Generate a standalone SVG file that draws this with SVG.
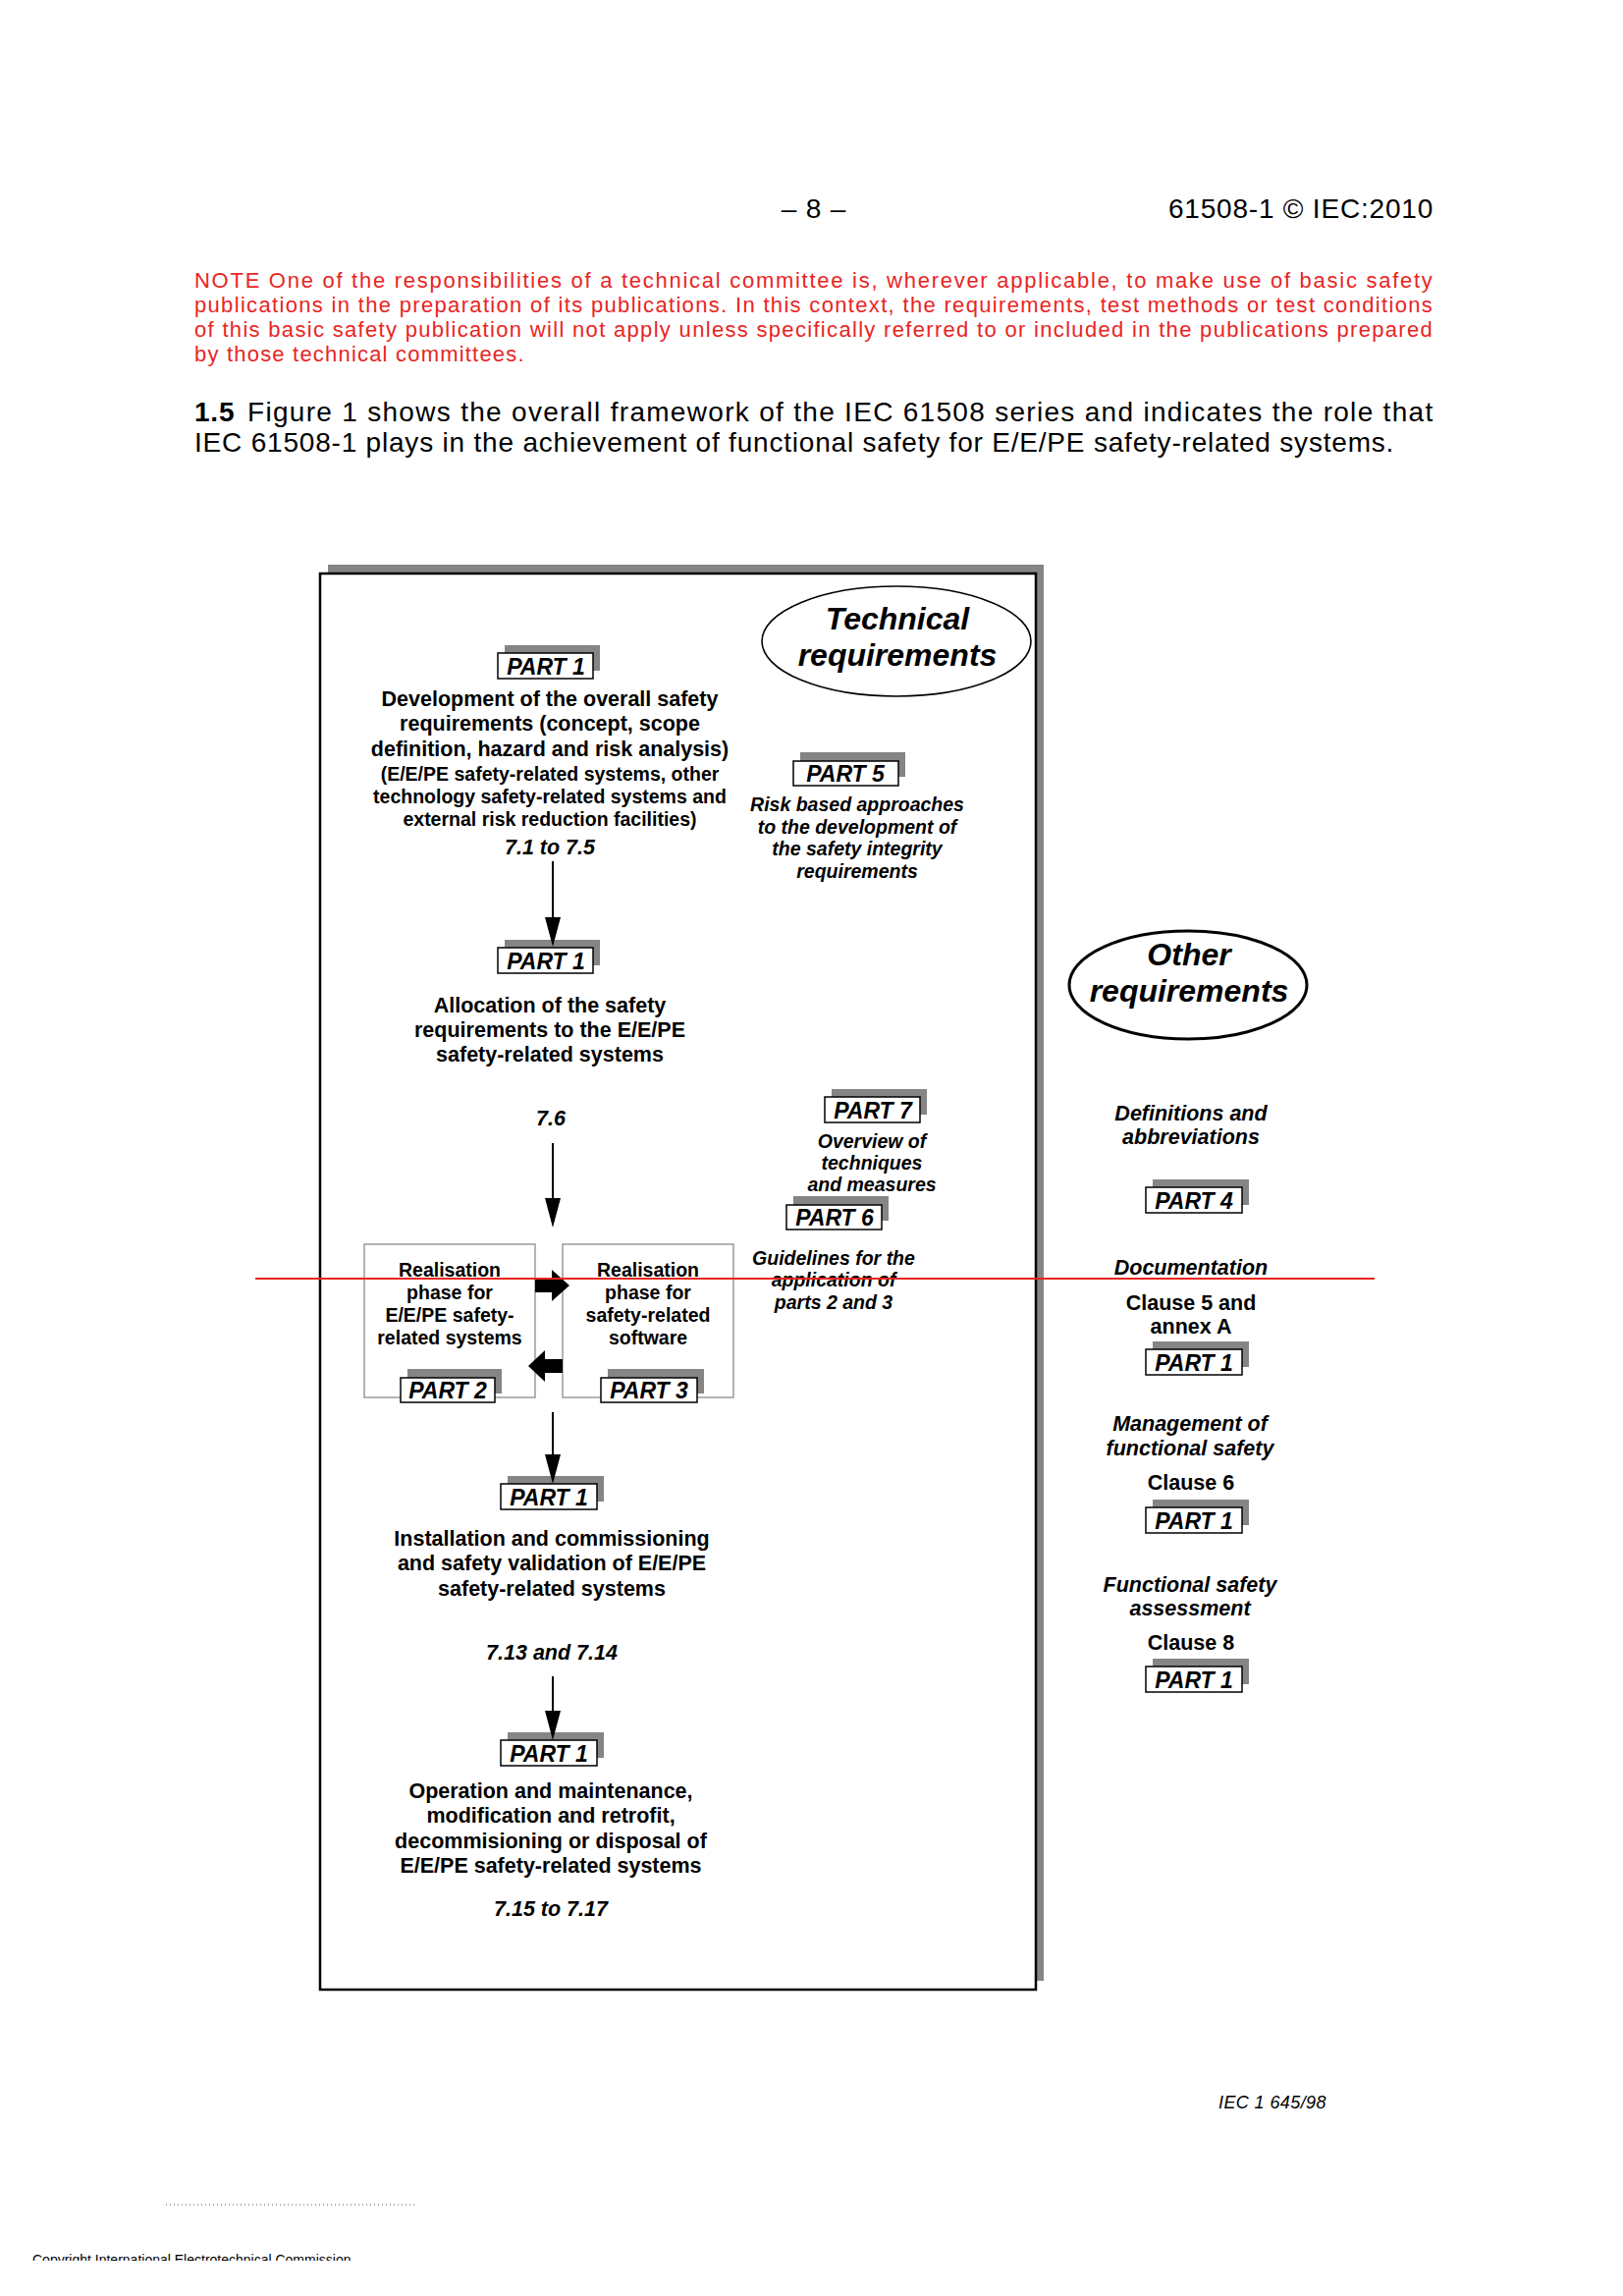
<svg xmlns="http://www.w3.org/2000/svg" width="1653" height="2338" viewBox="0 0 1653 2338">
<style>
text { font-family: "Liberation Sans", Arial, Helvetica, sans-serif; fill: #000; }
.hdr { font-size: 28px; letter-spacing: 0.8px; }
.note { font-size: 22px; fill: #e8251f; letter-spacing: 1.2px; }
.bd { font-weight: bold; }
.m { font-size: 21.5px; font-weight: bold; text-anchor: middle; }
.s { font-size: 19.5px; font-weight: bold; text-anchor: middle; }
.i { font-style: italic; }
.pt { font-size: 23px; font-weight: bold; font-style: italic; text-anchor: middle; }
.ell { font-size: 32px; font-weight: bold; font-style: italic; text-anchor: middle; }
.sh { fill: #858585; }
.bx { fill: #fff; stroke: #000; stroke-width: 1.5; }
.rb { fill: #fff; stroke: #9a9a9a; stroke-width: 1.5; }
.ln { stroke: #000; stroke-width: 2; fill: none; }
.ah { fill: #000; }
</style>
<defs>
<clipPath id="cpy"><rect x="0" y="2280" width="800" height="22"/></clipPath>
</defs>
<rect x="0" y="0" width="1653" height="2338" fill="#fff"/>

<g id="header">
<text class="hdr" x="829" y="222" text-anchor="middle">– 8 –</text>
<text class="hdr" x="1460" y="222" text-anchor="end">61508-1 © IEC:2010</text>
</g>

<g id="note">
<text class="note" x="198" y="293" textLength="1262" lengthAdjust="spacing">NOTE One of the responsibilities of a technical committee is, wherever applicable, to make use of basic safety</text>
<text class="note" x="198" y="318" textLength="1262" lengthAdjust="spacing">publications in the preparation of its publications. In this context, the requirements, test methods or test conditions</text>
<text class="note" x="198" y="343" textLength="1262" lengthAdjust="spacing">of this basic safety publication will not apply unless specifically referred to or included in the publications prepared</text>
<text class="note" x="198" y="368">by those technical committees.</text>
</g>

<g id="intro">
<text class="hdr bd" x="198" y="429">1.5</text>
<text class="hdr" x="252" y="429" textLength="1208" lengthAdjust="spacing">Figure 1 shows the overall framework of the IEC 61508 series and indicates the role that</text>
<text class="hdr" x="198" y="460">IEC 61508-1 plays in the achievement of functional safety for E/E/PE safety-related systems.</text>
</g>

<g id="frame">
<rect x="334" y="575" width="729" height="1442" fill="#858585"/>
<rect x="326" y="584" width="729" height="1442" fill="#fff" stroke="#000" stroke-width="2.5"/>
</g>

<g id="technical-requirements">
<ellipse cx="913" cy="653" rx="137" ry="56" fill="#fff" stroke="#000" stroke-width="1.6"/>
<text class="ell" x="914" y="641">Technical</text>
<text class="ell" x="914" y="678">requirements</text>
</g>

<g id="other-requirements">
<ellipse cx="1210" cy="1003" rx="121" ry="55" fill="#fff" stroke="#000" stroke-width="3"/>
<text class="ell" x="1211" y="983">Other</text>
<text class="ell" x="1211" y="1020">requirements</text>
</g>

<g id="n-part1-overall">
<rect class="sh" x="514" y="657" width="97" height="26"/>
<rect class="bx" x="507" y="665" width="97" height="26"/>
<text class="pt" x="556" y="687">PART 1</text>
<text class="m" x="560" y="719">Development of the overall safety</text>
<text class="m" x="560" y="744">requirements (concept, scope</text>
<text class="m" x="560" y="770">definition, hazard and risk analysis)</text>
<text class="s" x="560" y="795">(E/E/PE safety-related systems, other</text>
<text class="s" x="560" y="818">technology safety-related systems and</text>
<text class="s" x="560" y="841">external risk reduction facilities)</text>
<text class="m i" x="560" y="870">7.1 to 7.5</text>
</g>

<g id="n-part5">
<rect class="sh" x="815" y="766" width="107" height="25"/>
<rect class="bx" x="808" y="775" width="107" height="25"/>
<text class="pt" x="861" y="796">PART 5</text>
<text class="s i" x="873" y="826">Risk based approaches</text>
<text class="s i" x="873" y="849">to the development of</text>
<text class="s i" x="873" y="871">the safety integrity</text>
<text class="s i" x="873" y="894">requirements</text>
</g>

<g id="n-part1-allocation">
<rect class="sh" x="514" y="957" width="97" height="26"/>
<rect class="bx" x="507" y="965" width="97" height="26"/>
<text class="pt" x="556" y="987">PART 1</text>
<text class="m" x="560" y="1031">Allocation of the safety</text>
<text class="m" x="560" y="1056">requirements to the E/E/PE</text>
<text class="m" x="560" y="1081">safety-related systems</text>
<text class="m i" x="561" y="1146">7.6</text>
</g>

<g id="n-part7">
<rect class="sh" x="847" y="1109" width="97" height="26"/>
<rect class="bx" x="840" y="1117" width="97" height="26"/>
<text class="pt" x="889" y="1139">PART 7</text>
<text class="s i" x="888" y="1169">Overview of</text>
<text class="s i" x="888" y="1191">techniques</text>
<text class="s i" x="888" y="1213">and measures</text>
</g>

<g id="n-part6">
<rect class="sh" x="808" y="1218" width="97" height="25"/>
<rect class="bx" x="801" y="1227" width="97" height="25"/>
<text class="pt" x="850" y="1248">PART 6</text>
<text class="s i" x="849" y="1288">Guidelines for the</text>
<text class="s i" x="849" y="1310">application of</text>
<text class="s i" x="849" y="1333">parts 2 and 3</text>
</g>

<g id="n-part2">
<rect class="rb" x="371" y="1267" width="174" height="156"/>
<text class="s" x="458" y="1300">Realisation</text>
<text class="s" x="458" y="1323">phase for</text>
<text class="s" x="458" y="1346">E/E/PE safety-</text>
<text class="s" x="458" y="1369">related systems</text>
<rect class="sh" x="415" y="1394" width="96" height="25"/>
<rect class="bx" x="408" y="1403" width="96" height="25"/>
<text class="pt" x="456" y="1424">PART 2</text>
</g>

<g id="n-part3">
<rect class="rb" x="573" y="1267" width="174" height="156"/>
<text class="s" x="660" y="1300">Realisation</text>
<text class="s" x="660" y="1323">phase for</text>
<text class="s" x="660" y="1346">safety-related</text>
<text class="s" x="660" y="1369">software</text>
<rect class="sh" x="619" y="1394" width="98" height="25"/>
<rect class="bx" x="612" y="1403" width="98" height="25"/>
<text class="pt" x="661" y="1424">PART 3</text>
</g>

<g id="n-part1-installation">
<rect class="sh" x="517" y="1503" width="98" height="26"/>
<rect class="bx" x="510" y="1511" width="98" height="26"/>
<text class="pt" x="559" y="1533">PART 1</text>
<text class="m" x="562" y="1574">Installation and commissioning</text>
<text class="m" x="562" y="1599">and safety validation of E/E/PE</text>
<text class="m" x="562" y="1625">safety-related systems</text>
<text class="m i" x="562" y="1690">7.13 and 7.14</text>
</g>

<g id="n-part1-operation">
<rect class="sh" x="517" y="1764" width="98" height="26"/>
<rect class="bx" x="510" y="1772" width="98" height="26"/>
<text class="pt" x="559" y="1794">PART 1</text>
<text class="m" x="561" y="1831">Operation and maintenance,</text>
<text class="m" x="561" y="1856">modification and retrofit,</text>
<text class="m" x="561" y="1882">decommisioning or disposal of</text>
<text class="m" x="561" y="1907">E/E/PE safety-related systems</text>
<text class="m i" x="561" y="1951">7.15 to 7.17</text>
</g>

<g id="n-part4">
<text class="m i" x="1213" y="1141">Definitions and</text>
<text class="m i" x="1213" y="1165">abbreviations</text>
<rect class="sh" x="1174" y="1201" width="98" height="26"/>
<rect class="bx" x="1167" y="1209" width="98" height="26"/>
<text class="pt" x="1216" y="1231">PART 4</text>
</g>

<g id="n-documentation">
<text class="m i" x="1213" y="1298">Documentation</text>
<text class="m" x="1213" y="1334">Clause 5 and</text>
<text class="m" x="1213" y="1358">annex A</text>
<rect class="sh" x="1174" y="1366" width="98" height="26"/>
<rect class="bx" x="1167" y="1374" width="98" height="26"/>
<text class="pt" x="1216" y="1396">PART 1</text>
</g>

<g id="n-management">
<text class="m i" x="1212" y="1457">Management of</text>
<text class="m i" x="1212" y="1482">functional safety</text>
<text class="m" x="1213" y="1517">Clause 6</text>
<rect class="sh" x="1174" y="1527" width="98" height="26"/>
<rect class="bx" x="1167" y="1535" width="98" height="26"/>
<text class="pt" x="1216" y="1557">PART 1</text>
</g>

<g id="n-assessment">
<text class="m i" x="1212" y="1621">Functional safety</text>
<text class="m i" x="1212" y="1645">assessment</text>
<text class="m" x="1213" y="1680">Clause 8</text>
<rect class="sh" x="1174" y="1689" width="98" height="26"/>
<rect class="bx" x="1167" y="1697" width="98" height="26"/>
<text class="pt" x="1216" y="1719">PART 1</text>
</g>

<g id="connectors">
<line class="ln" x1="563" y1="877" x2="563" y2="936"/>
<polygon class="ah" points="555,934 571,934 563,964"/>
<line class="ln" x1="563" y1="1164" x2="563" y2="1222"/>
<polygon class="ah" points="555,1220 571,1220 563,1250"/>
<line class="ln" x1="563" y1="1438" x2="563" y2="1483"/>
<polygon class="ah" points="555,1481 571,1481 563,1511"/>
<line class="ln" x1="563" y1="1707" x2="563" y2="1744"/>
<polygon class="ah" points="555,1742 571,1742 563,1772"/>
<polygon class="ah" points="545,1302 562,1302 562,1293 580,1309 562,1325 562,1316 545,1316"/>
<polygon class="ah" points="573,1384 555,1384 555,1375 538,1391 555,1407 555,1398 573,1398"/>
</g>

<line id="red-rule" x1="260" y1="1302" x2="1400" y2="1302" stroke="#e8251f" stroke-width="1.8"/>

<g id="footer">
<text x="1241" y="2147" font-size="18" font-style="italic" letter-spacing="0.4">IEC 1 645/98</text>
<line x1="169" y1="2245" x2="422" y2="2245" stroke="#aaaaaa" stroke-width="2" stroke-dasharray="1 3"/>
<g clip-path="url(#cpy)">
<text x="33" y="2306" font-size="14" fill="#333">Copyright International Electrotechnical Commission</text>
</g>
</g>
</svg>
